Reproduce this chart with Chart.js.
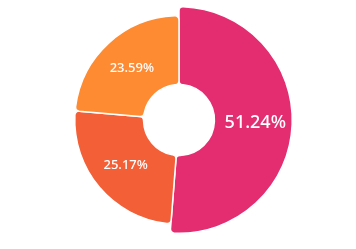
<!DOCTYPE html>
<html>
<head>
<meta charset="utf-8">
<script src="https://cdn.jsdelivr.net/npm/chart.js@4.4.1/dist/chart.umd.min.js"></script>
<style>
  html, body { margin: 0; padding: 0; background: #fff; }
  #wrap { width: 356px; height: 249px; }
</style>
</head>
<body>
<div id="wrap"><canvas id="donut"></canvas></div>
<script>
// Slice data
const categories = ['A', 'B', 'C'];
const shares = [51.24, 25.17, 23.59];
const sliceColors = ['#e42d70', '#f35f37', '#fe8a32'];
const labelSizes = [18, 13, 13];

// The biggest slice sticks out a bit further than the others
const growFirst = {
  id: 'growFirst',
  beforeDatasetsDraw(chart) {
    const arc = chart.getDatasetMeta(0).data[0];
    if (arc && !arc._grown) {
      arc.outerRadius += 9;
      arc._grown = true;
    }
  }
};

// Percentage text in the middle of each slice
const sliceLabels = {
  id: 'sliceLabels',
  afterDatasetsDraw(chart) {
    const ctx = chart.ctx;
    chart.getDatasetMeta(0).data.forEach((arc, i) => {
      const p = arc.tooltipPosition();
      ctx.save();
      ctx.fillStyle = '#ffffff';
      ctx.font = '500 ' + labelSizes[i] + 'px "Noto Sans", sans-serif';
      ctx.textAlign = 'center';
      ctx.textBaseline = 'middle';
      ctx.fillText(shares[i].toFixed(2) + '%', p.x + (i === 0 ? 2 : 0), p.y);
      ctx.restore();
    });
  }
};

new Chart(document.getElementById('donut'), {
  type: 'doughnut',
  data: {
    labels: categories,
    datasets: [{
      data: shares,
      backgroundColor: sliceColors,
      borderColor: '#ffffff',
      borderWidth: 1.5,
      borderRadius: 4,
      hoverOffset: 0
    }]
  },
  options: {
    responsive: true,
    maintainAspectRatio: false,
    animation: false,
    events: [],
    cutout: '34%',
    layout: { padding: { left: 74, right: 72, top: 15, bottom: 24 } },
    plugins: { legend: { display: false }, tooltip: { enabled: false } }
  },
  plugins: [growFirst, sliceLabels]
});
</script>
</body>
</html>
